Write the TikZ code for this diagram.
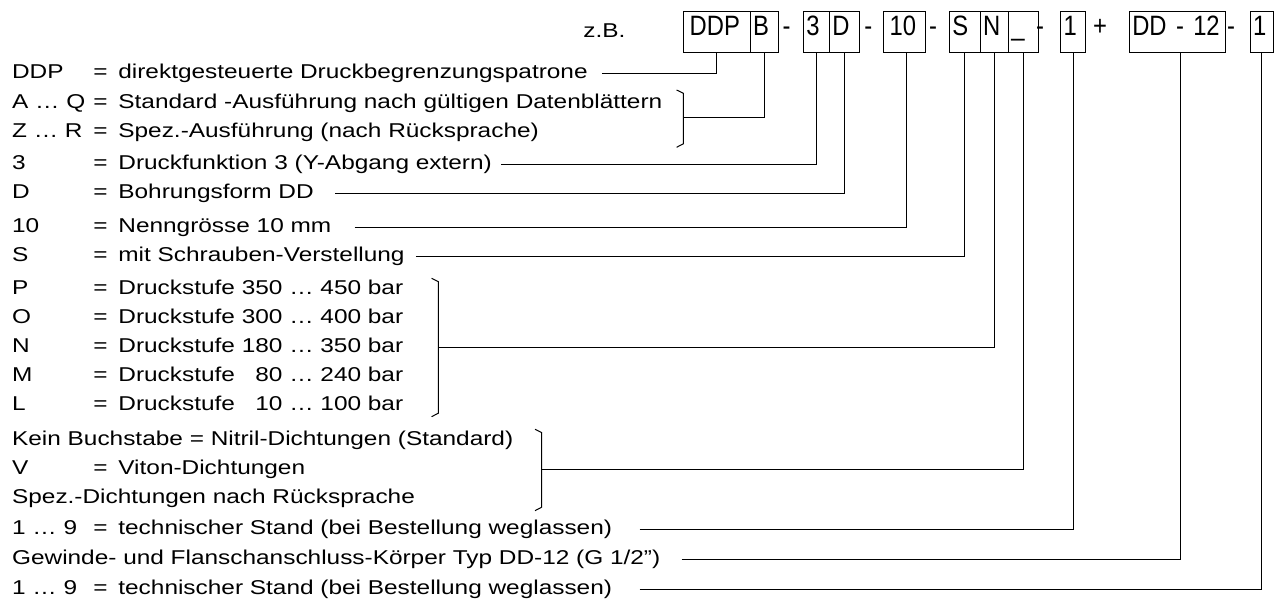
\documentclass[tikz,border=0pt]{standalone}
\usepackage{fontspec}
\setmainfont[FakeStretch=1.22]{Liberation Sans}
\newfontfamily\boxfont[FakeStretch=0.85]{Liberation Sans}
\usetikzlibrary{positioning}
\newcommand{\keyrow}[2]{\makebox[40.65pt][l]{#1}\makebox[12.5pt][l]{=}#2}
\tikzset{
  >=stealth,
  code box/.style={
    draw,
    rectangle,
    line width=0.5pt,
    anchor=north west,
    minimum height=20.3pt,
    inner xsep=1.5pt,
    inner ysep=0pt,
    outer sep=0pt,
    text height=7pt,
    text depth=3pt,
    align=left,
    text width=#1,
    font=\boxfont\fontsize{14pt}{16pt}\selectfont
  },
  code sep/.style={
    anchor=base,
    inner sep=0pt,
    font=\boxfont\fontsize{14pt}{16pt}\selectfont
  },
  legend/.style={
    anchor=base west,
    inner sep=0pt,
    font=\fontsize{10pt}{12pt}\selectfont
  },
  lead/.style={line width=0.5pt}
}

\begin{document}
\begin{tikzpicture}[x=0.5pt,y=-0.5pt]
\useasboundingbox (0,0) rectangle (1276,604);
% type code
\node[legend] (zb) at (583,38) {z.B.};
\node[code box=30.35pt]                 (ddp)   at (683.3,11.7) {\hspace*{1.7pt}DDP};
\node[code box=11.15pt,right=0pt of ddp] (bvar)  {B};
\node[code sep]                          (m1)    at (786.7,36) {-};
\node[code box=10pt]                    (fn3)   at (803.3,11.7) {3};
\node[code box=11.85pt,right=0pt of fn3] (bore)  {D};
\node[code sep]                          (m2)    at (868.3,36) {-};
\node[code box=17.85pt]                 (size)  at (883.3,11.7) {\hspace*{1.7pt}10};
\node[code sep]                          (m3)    at (933,36) {-};
\node[code box=12.35pt]                 (screw) at (949.3,11.7) {S};
\node[code box=11.15pt,right=0pt of screw] (stage) {N};
\node[code box=12pt,right=0pt of stage]  (seal)  {\_};
\node[code sep]                          (m4)    at (1040,36) {-};
\node[code box=9.5pt]                   (rev)   at (1060.7,11.7) {1};
\node[code sep]                          (plus)  at (1100,36) {+};
\node[code box=44.85pt]                 (body)  at (1129.3,11.7) {DD - 12};
\node[code sep]                          (m5)    at (1231,36) {-};
\node[code box=8.7pt]                   (rev2)  at (1250,11.7) {1};

% legend
\node[legend] (t-ddp)   at (11.7,79)    {\keyrow{DDP}{direktgesteuerte Druckbegrenzungspatrone}};
\node[legend] (t-aq)    at (11.7,108.5) {\keyrow{A … Q}{Standard -Ausführung nach gültigen Datenblättern}};
\node[legend] (t-zr)    at (11.7,138)   {\keyrow{Z … R}{Spez.-Ausführung (nach Rücksprache)}};
\node[legend] (t-fn)    at (11.7,169.5) {\keyrow{3}{Druckfunktion 3 (Y-Abgang extern)}};
\node[legend] (t-bore)  at (11.7,198.5) {\keyrow{D}{Bohrungsform DD}};
\node[legend] (t-size)  at (11.7,233)   {\keyrow{10}{Nenngrösse 10 mm}};
\node[legend] (t-screw) at (11.7,261.5) {\keyrow{S}{mit Schrauben-Verstellung}};
\node[legend] (t-p)     at (11.7,295)   {\keyrow{P}{Druckstufe 350 … 450 bar}};
\node[legend] (t-o)     at (11.7,324)   {\keyrow{O}{Druckstufe 300 … 400 bar}};
\node[legend] (t-n)     at (11.7,353)   {\keyrow{N}{Druckstufe 180 … 350 bar}};
\node[legend] (t-m)     at (11.7,382)   {\keyrow{M}{Druckstufe \phantom{1}80 … 240 bar}};
\node[legend] (t-l)     at (11.7,411)   {\keyrow{L}{Druckstufe \phantom{1}10 … 100 bar}};
\node[legend] (t-kein)  at (11.7,445)   {Kein Buchstabe = Nitril-Dichtungen (Standard)};
\node[legend] (t-v)     at (11.7,474)   {\keyrow{V}{Viton-Dichtungen}};
\node[legend] (t-spez)  at (11.7,503.5) {Spez.-Dichtungen nach Rücksprache};
\node[legend] (t-rev)   at (11.7,535)   {\keyrow{1 … 9}{technischer Stand (bei Bestellung weglassen)}};
\node[legend] (t-body)  at (11.7,565)   {Gewinde- und Flanschanschluss-Körper Typ DD-12 (G 1/2”)};
\node[legend] (t-rev2)  at (11.7,595)   {\keyrow{1 … 9}{technischer Stand (bei Bestellung weglassen)}};

% brackets
\foreach \bx/\bt/\bb in {683.3/90/147.3, 438.3/278.3/416.7, 541.7/429.3/510.7}
  \draw[lead] (\bx-6.7,\bt) -- (\bx,\bt+3.3) -- (\bx,\bb-3.5) -- (\bx-6.7,\bb);
\coordinate (brace-ab)    at (683.3,117.5);
\coordinate (brace-stage) at (438.3,347.5);
\coordinate (brace-seal)  at (541.7,469.5);

% leaders
\draw[lead] ([xshift=6.9pt]t-ddp.mid east)   -| (ddp.south);
\draw[lead] (brace-ab)                        -| (bvar.south);
\draw[lead] ([xshift=4.5pt]t-fn.mid east)    -| (fn3.south);
\draw[lead] ([xshift=10.5pt]t-bore.mid east) -| (bore.south);
\draw[lead] ([xshift=11.5pt]t-size.mid east) -| ([xshift=1.25pt]size.south);
\draw[lead] ([xshift=5.5pt]t-screw.mid east) -| (screw.south);
\draw[lead] (brace-stage)                     -| (stage.south);
\draw[lead] (brace-seal)                      -| (seal.south);
\draw[lead] ([xshift=13.5pt]t-rev.mid east)  -| (rev.south);
\draw[lead] ([xshift=10.5pt]t-body.mid east) -| ([xshift=1.75pt]body.south);
\draw[lead] ([xshift=13.5pt]t-rev2.mid east) -| (rev2.south);
\end{tikzpicture}
\end{document}
